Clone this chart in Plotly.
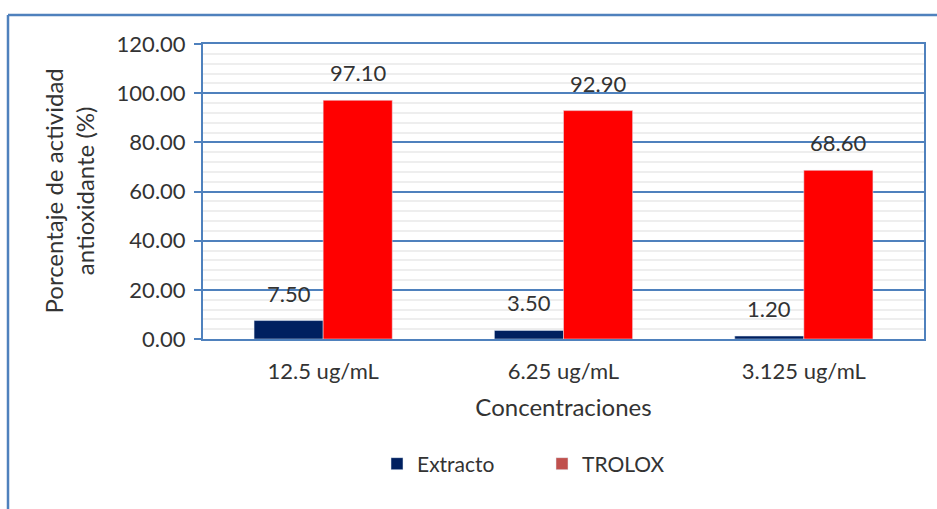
import plotly.graph_objects as go

categories = ["12.5 ug/mL", "6.25 ug/mL", "3.125 ug/mL"]
extracto = [7.50, 3.50, 1.20]
trolox = [97.10, 92.90, 68.60]
y_ticks = [0, 20, 40, 60, 80, 100, 120]
y_tick_labels = ["0.00", "20.00", "40.00", "60.00", "80.00", "100.00", "120.00"]

FONT = "Lato"
TXT = "#333333"
BLUE = "#4F81BD"
W = 0.2875
L, R, T, B = 203, 13, 44, 170
FW, FH = 937, 509
pw, ph = FW - L - R, FH - T - B

xs = list(range(len(categories)))

fig = go.Figure()
fig.add_trace(go.Bar(x=xs, y=extracto, width=W, offset=-W, marker_color="#002060",
                     showlegend=False, name="Extracto"))
fig.add_trace(go.Bar(x=xs, y=trolox, width=W, offset=0, marker_color="#FF0000",
                     showlegend=False, name="TROLOX"))
# legend entries (Excel legend colours)
fig.add_trace(go.Bar(x=[None], y=[None], marker_color="#002060", name="Extracto"))
fig.add_trace(go.Bar(x=[None], y=[None], marker_color="#C0504D", name="TROLOX"))

for i in xs:
    fig.add_annotation(x=i - W / 2, y=extracto[i], text=f"{extracto[i]:.2f}", showarrow=False,
                       yanchor="bottom", yshift=12, font=dict(family=FONT, size=22, color=TXT))
    fig.add_annotation(x=i + W / 2, y=trolox[i], text=f"{trolox[i]:.2f}", showarrow=False,
                       yanchor="bottom", yshift=12, font=dict(family=FONT, size=22, color=TXT))

def px_x(p):
    return (p - L) / pw

def px_y(p):
    return 1 - (p - T) / ph

# y-axis title (two lines)
fig.add_annotation(xref="paper", yref="paper", x=px_x(68), y=0.5, textangle=-90,
                   text="Porcentaje de actividad<br>antioxidante (%)", showarrow=False,
                   xanchor="center", yanchor="middle",
                   font=dict(family=FONT, size=24, color=TXT))

# outer chart border (left and top)
fig.add_shape(type="line", xref="paper", yref="paper", x0=px_x(8), x1=px_x(8),
              y0=px_y(15), y1=px_y(520), line=dict(color=BLUE, width=2.5))
fig.add_shape(type="line", xref="paper", yref="paper", x0=px_x(8), x1=px_x(945),
              y0=px_y(15), y1=px_y(15), line=dict(color=BLUE, width=2.5))

fig.update_layout(
    width=FW, height=FH,
    margin=dict(l=L, r=R, t=T, b=B),
    paper_bgcolor="white", plot_bgcolor="white",
    font=dict(family=FONT, size=22, color=TXT),
    barmode="overlay",
    legend=dict(orientation="h", x=px_x(377), y=px_y(464), xanchor="left", yanchor="middle",
                font=dict(family=FONT, size=21, color=TXT), entrywidth=120,
                bgcolor="rgba(0,0,0,0)"),
    xaxis=dict(range=[-0.5, 2.5], tickvals=xs, ticktext=categories, showgrid=False,
               showline=True, linecolor=BLUE, linewidth=2, mirror=True, ticks="",
               zeroline=False, ticklabelstandoff=12,
               title=dict(text="Concentraciones", font=dict(family=FONT, size=24, color=TXT), standoff=16),
               tickfont=dict(family=FONT, size=22, color=TXT)),
    yaxis=dict(range=[0, 120], tickvals=y_ticks, ticktext=y_tick_labels,
               showgrid=True, gridcolor=BLUE, gridwidth=2,
               showline=True, linecolor=BLUE, linewidth=2, mirror=True,
               ticks="outside", ticklen=7, tickwidth=2, tickcolor=BLUE,
               zeroline=False, ticklabelstandoff=4,
               minor=dict(dtick=4, showgrid=True, gridcolor="#EEEEEE", gridwidth=2, ticks=""),
               tickfont=dict(family=FONT, size=22, color=TXT)),
)

fig.write_html("out.html", config={"displayModeBar": False},
               post_script="document.body.style.margin='0';")
